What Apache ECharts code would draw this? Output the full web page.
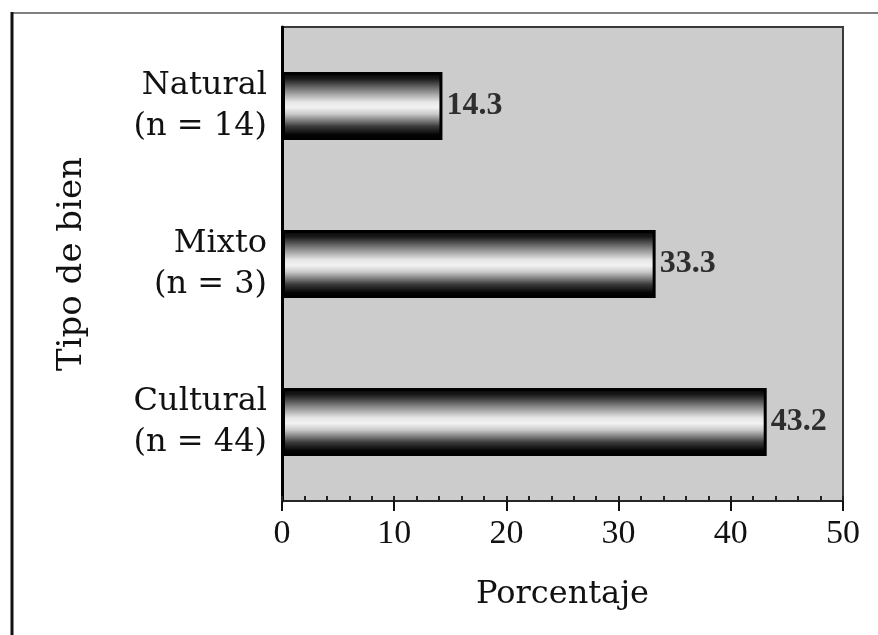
<!DOCTYPE html>
<html>
<head>
<meta charset="utf-8">
<script src="https://cdn.jsdelivr.net/npm/echarts@6/dist/echarts.min.js"></script>
<style>
html,body{margin:0;padding:0;background:#fff;}
#c{width:878px;height:635px;}
</style>
</head>
<body>
<div id="c"></div>
<script>
const categories = ['Cultural', 'Mixto', 'Natural'];
const counts = [44, 3, 14];
const values = [43.2, 33.3, 14.3];
const xTicks = [0, 10, 20, 30, 40, 50];

const FONT = '"Liberation Serif", "Times New Roman", serif';
const FONT2 = '"DejaVu Serif", serif';
const chart = echarts.init(document.getElementById('c'), null, {renderer: 'canvas'});

const labels = categories.map((c, i) => c + '\n(n = ' + counts[i] + ')');

chart.setOption({
  animation: false,
  backgroundColor: '#ffffff',
  grid: {
    left: 282, right: 35, top: 27, bottom: 134,
    show: true, backgroundColor: '#cccccc', borderColor: '#3a3a3a', borderWidth: 2
  },
  graphic: [
    {type: 'line', shape: {x1: 12, y1: 13, x2: 878, y2: 13}, style: {stroke: '#808080', lineWidth: 2}},
    {type: 'line', shape: {x1: 12, y1: 12, x2: 12, y2: 635}, style: {stroke: '#111', lineWidth: 3}}
  ],
  xAxis: [{
    type: 'value', min: xTicks[0], max: xTicks[xTicks.length - 1], interval: 10,
    axisLine: {show: true, lineStyle: {color: '#222', width: 1.5}},
    axisTick: {show: true, length: 10, lineStyle: {color: '#111', width: 2}},
    splitLine: {show: false},
    axisLabel: {margin: 16, fontSize: 34, color: '#111', fontFamily: FONT},
    name: 'Porcentaje', nameLocation: 'middle', nameGap: 78,
    nameTextStyle: {fontSize: 32, color: '#111', fontFamily: FONT2}
  }, {
    type: 'value', min: 0, max: 50, interval: 2, position: 'bottom',
    axisLine: {show: false},
    axisTick: {show: true, inside: true, length: 5, lineStyle: {color: '#222', width: 2}},
    axisLabel: {show: false},
    splitLine: {show: false}
  }],
  yAxis: {
    type: 'category', data: labels,
    axisLine: {show: true, lineStyle: {color: '#000', width: 3}},
    axisTick: {show: false},
    axisLabel: {fontSize: 32, lineHeight: 41, color: '#111', fontFamily: FONT2, align: 'right', margin: 15},
    name: 'Tipo de bien', nameLocation: 'middle', nameGap: 193, nameRotate: 90,
    nameTextStyle: {fontSize: 34, color: '#111', fontFamily: FONT2}
  },
  series: [{
    type: 'bar', data: values, barWidth: 68, xAxisIndex: 0,
    itemStyle: {
      borderColor: '#000', borderWidth: 3,
      color: new echarts.graphic.LinearGradient(0, 0, 0, 1, [
        {offset: 0, color: '#000000'},
        {offset: 0.1, color: '#1a1a1a'},
        {offset: 0.28, color: '#8a8a8a'},
        {offset: 0.44, color: '#e6e6e6'},
        {offset: 0.52, color: '#f2f2f2'},
        {offset: 0.62, color: '#c8c8c8'},
        {offset: 0.8, color: '#3a3a3a'},
        {offset: 0.92, color: '#050505'},
        {offset: 1, color: '#000000'}
      ])
    },
    label: {
      show: true, position: 'right', distance: 4,
      fontSize: 32, fontWeight: 'bold', color: '#2e2e2e', fontFamily: FONT,
      formatter: p => p.value.toFixed(1)
    }
  }]
});
</script>
</body>
</html>
